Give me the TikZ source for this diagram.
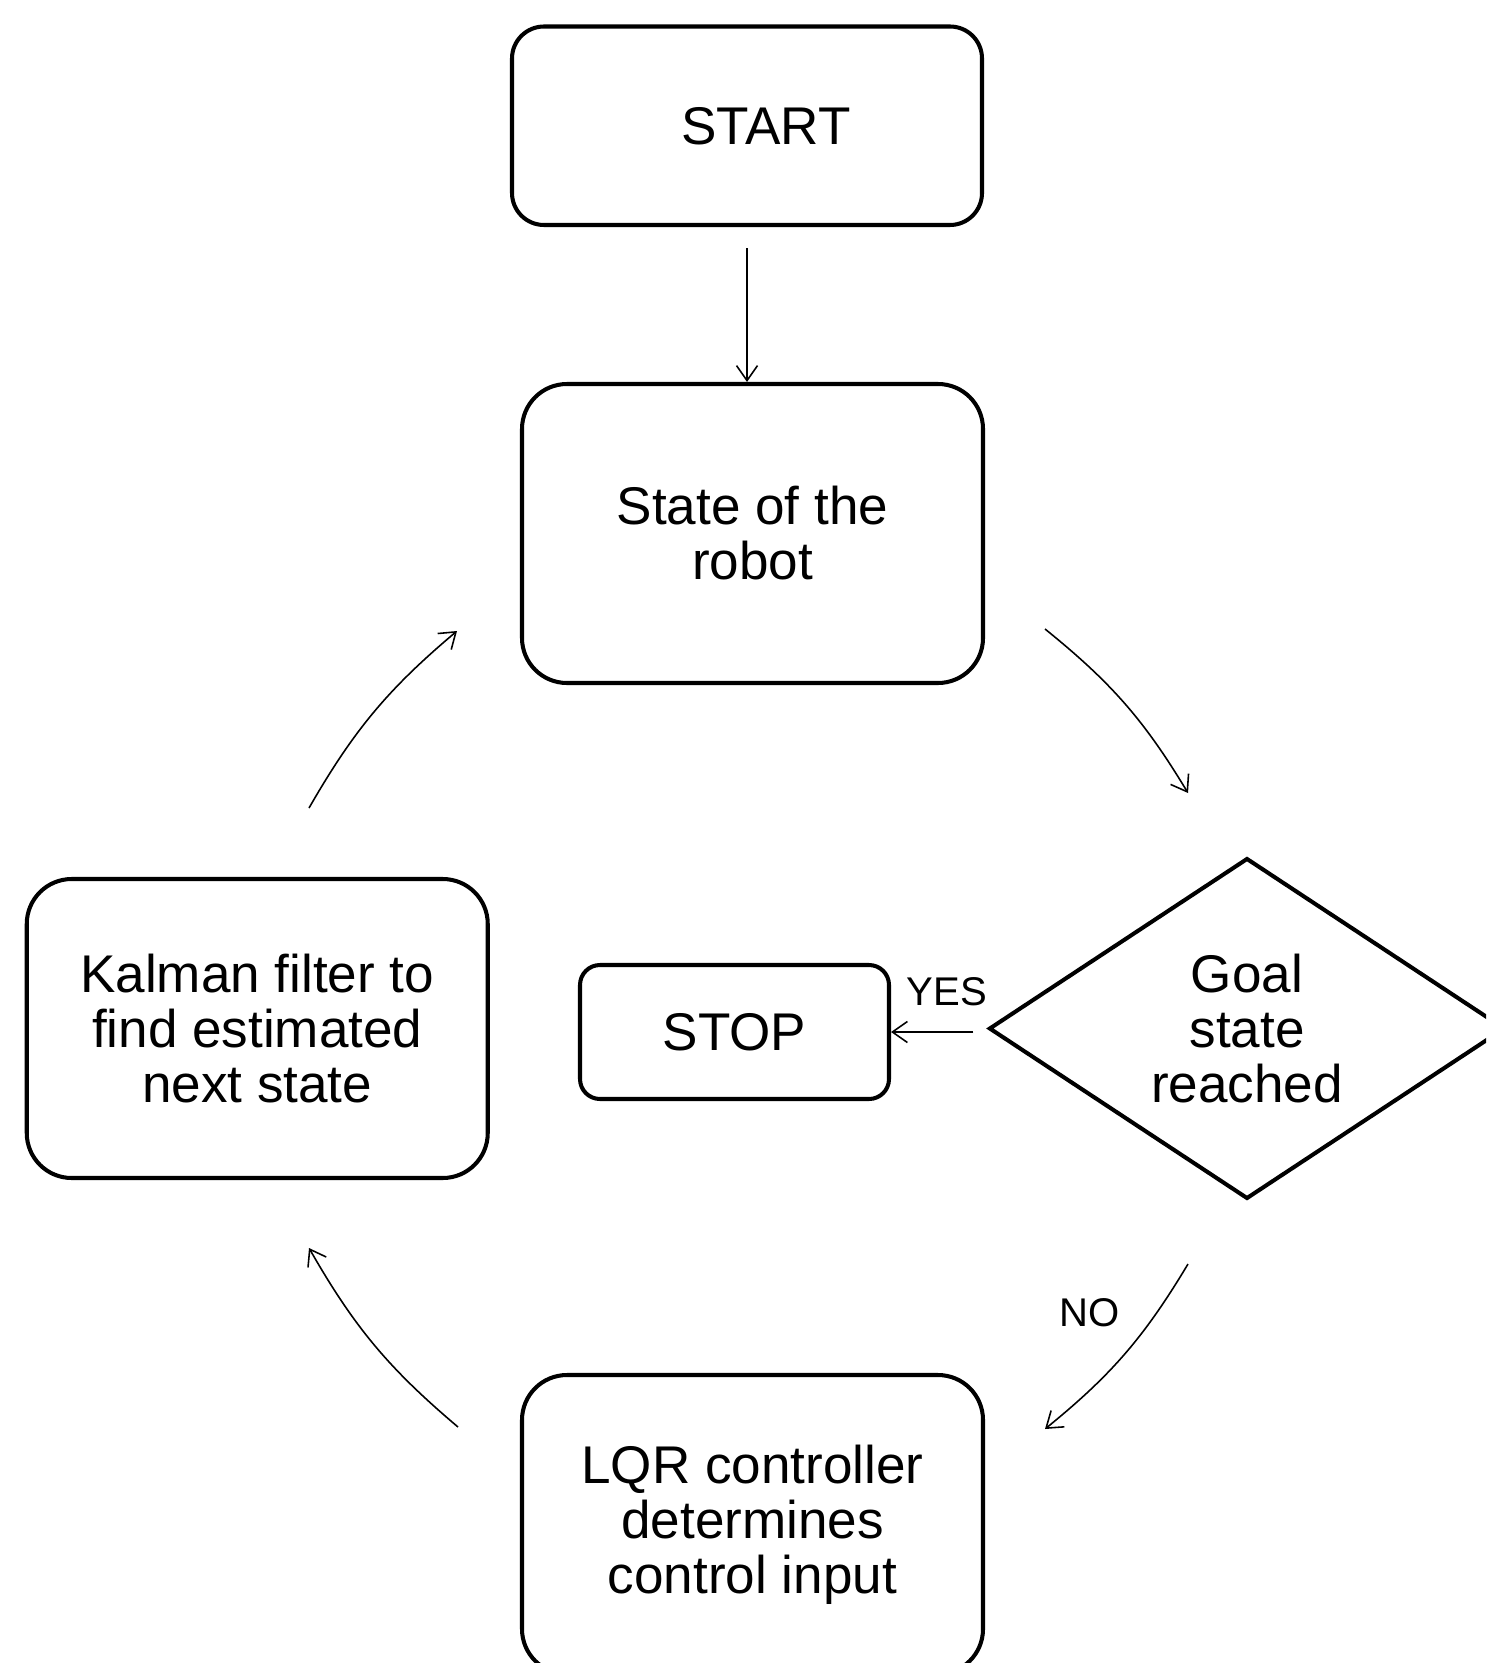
\documentclass[tikz,border=0pt]{standalone}
\usepackage{fontspec}
\setmainfont{Liberation Sans}
\usetikzlibrary{shapes.geometric,arrows.meta}
\newcommand{\bigText}{\fontsize{30.2}{31.3}\selectfont}
\newcommand{\smallText}{\fontsize{22.8}{24}\selectfont}
\newcommand{\loopArrow}[2]{%%
  \draw[arrowStyle] (#1) to[bend left=10] (#2);
}

\begin{document}
\begin{tikzpicture}[%%
  boxStyle/.style={draw,line width=2.3pt,rounded corners=0.9cm,minimum width=9.22cm,minimum height=5.98cm,align=center,font=\bigText,inner sep=0pt},%%
  decisionStyle/.style={draw,diamond,line width=2.3pt,minimum width=10.32cm,minimum height=6.8cm,align=center,font=\bigText,inner sep=0pt},%%
  arrowStyle/.style={-{Straight Barb[length=0.3cm,width=0.42cm]},line width=0.9pt},%%
  labelStyle/.style={font=\smallText,inner sep=0pt}
]
%%
%% Page size of the picture.
\useasboundingbox (0,0) rectangle (29.72,-33.26);
\clip (0,0) rectangle (29.72,-33.26);
%%
%% The boxes.
\node[boxStyle,rounded corners=0.64cm,minimum width=9.4cm,minimum height=3.97cm] (start) at (14.94,-2.515) {\hspace*{0.76cm}START};
\node[boxStyle] (state) at (15.05,-10.67) {State of the\\robot};
\node[decisionStyle] (goal) at (24.94,-20.57) {Goal\\state\\reached};
\node[boxStyle,rounded corners=0.4cm,minimum width=6.18cm,minimum height=2.68cm] (stop) at (14.69,-20.64) {STOP};
\node[boxStyle] (lqr) at (15.05,-30.49) {LQR controller\\determines\\control input};
\node[boxStyle] (kalman) at (5.145,-20.57) {Kalman filter to\\find estimated\\next state};
%%
%% Labels on the way out of the decision.
\node[labelStyle] (yesLabel) at (18.94,-19.84) {YES};
\node[labelStyle] (noLabel) at (21.8,-26.26) {NO};
%%
%% Free ends of the loop arrows.
\coordinate (stateOut) at (20.9,-12.58);
\coordinate (goalIn) at (23.76,-15.86);
\coordinate (goalOut) at (23.76,-25.28);
\coordinate (lqrIn) at (20.9,-28.58);
\coordinate (lqrOut) at (9.16,-28.54);
\coordinate (kalmanIn) at (6.18,-24.96);
\coordinate (kalmanOut) at (6.18,-16.16);
\coordinate (stateIn) at (9.14,-12.62);
%%
%% The arrows.
\draw[arrowStyle,shorten <=0.42cm] (start.south) -- (start.south |- state.north);
\draw[arrowStyle,shorten <=0.27cm] (stop.east -| goal.west) -- (stop.east);
\loopArrow{stateOut}{goalIn}
\loopArrow{goalOut}{lqrIn}
\loopArrow{lqrOut}{kalmanIn}
\loopArrow{kalmanOut}{stateIn}
\end{tikzpicture}
\end{document}
